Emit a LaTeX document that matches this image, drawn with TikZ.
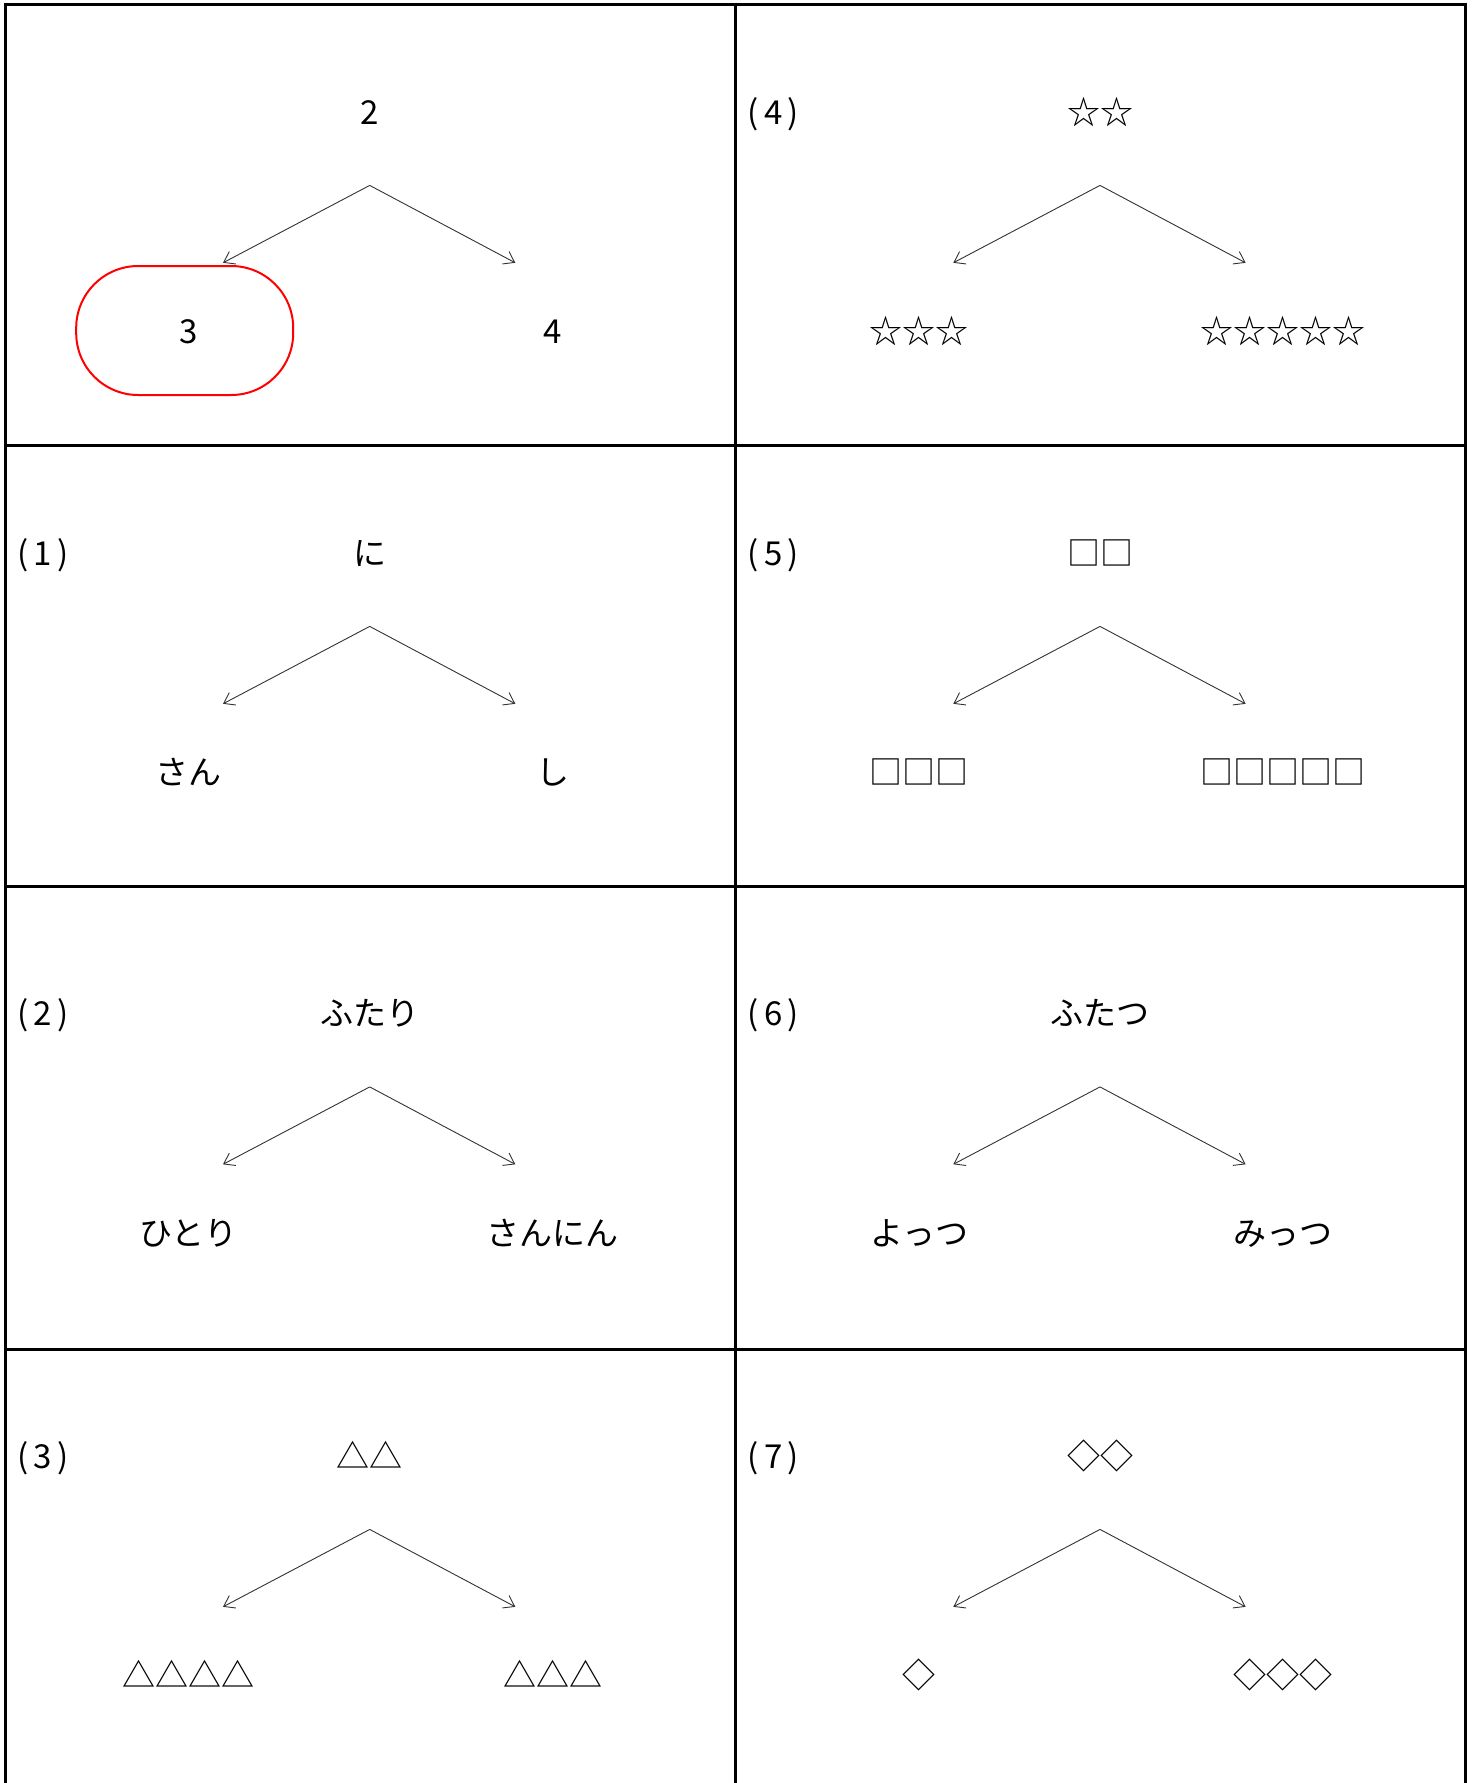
\documentclass[tikz,border=0pt]{standalone}
\usepackage{fontspec}
\setmainfont{Noto Sans CJK JP}
\usetikzlibrary{arrows.meta, positioning}

\begin{document}
\begin{tikzpicture}[x=1pt, y=-1pt,
    grid/.style={draw=black, line width=3pt},
    word/.style={font=\fontsize{33}{40}\selectfont, text height=0.75em, text depth=0pt, inner sep=0pt, yshift=-9pt},
    tag/.style={word, anchor=west},
    branch/.style={draw=black!80, line width=0.9pt, -{Straight Barb[length=10pt,width=14pt]}},
    answer/.style={draw=red, line width=2pt, rounded corners=62pt, minimum width=217pt, minimum height=129pt}]
    \useasboundingbox (0,0) rectangle (1473,1783);
    % table
    \draw[grid] (3.5,4) -- (1466.5,4);
    \foreach \gy in {445, 886, 1349}
        \draw[grid] (5,\gy) -- (1465,\gy);
    \foreach \gx in {5, 735, 1465}
        \draw[grid] (\gx,2.5) -- (\gx,1783);
    % the eight splits
    \foreach \nm/\cx/\cy/\wtop/\wleft/\wright in {
        ex/0/0/2/3/4,
        q1/0/441/に/さん/し,
        q2/0/901.5/ふたり/ひとり/さんにん,
        q3/0/1344/△△/△△△△/△△△,
        q4/730.3/0/☆☆/☆☆☆/☆☆☆☆☆,
        q5/730.3/441/□□/□□□/□□□□□,
        q6/730.3/901.5/ふたつ/よっつ/みっつ,
        q7/730.3/1344/◇◇/◇/◇◇◇}{
        \node[word] (\nm-up) at (\cx+369.7,\cy+111.5) {\wtop};
        \node[word] (\nm-lt) at (\cx+188.8,\cy+331) {\wleft};
        \node[word] (\nm-rt) at (\cx+552.8,\cy+331) {\wright};
        \coordinate (\nm-apex) at (\cx+369.7,\cy+185.4);
        \coordinate (\nm-tipl) at (\cx+223,\cy+262.8);
        \coordinate (\nm-tipr) at (\cx+515.3,\cy+262.8);
        \draw[branch] (\nm-apex) -- (\nm-tipl);
        \draw[branch] (\nm-apex) -- (\nm-tipr);
    }
    % question numbers
    \foreach \nm/\cx/\cy/\n in {q1/0/441/1, q2/0/901.5/2, q3/0/1344/3,
        q4/730.3/0/4, q5/730.3/441/5, q6/730.3/901.5/6, q7/730.3/1344/7}
        \node[tag] (\nm-no) at (\cx+17,\cy+111.5) {(\,\n\,)};
    % example answer
    \node[answer] (ans) at (184.7,330.5) {};
\end{tikzpicture}
\end{document}
